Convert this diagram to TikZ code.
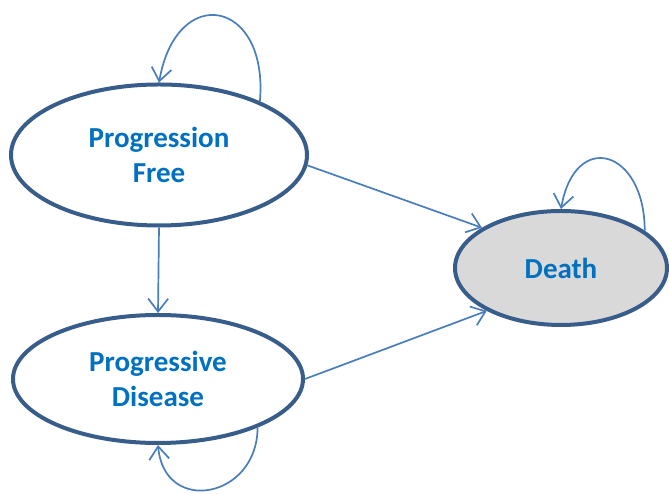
\documentclass[tikz,border=0pt]{standalone}
\usepackage{fontspec}
\setmainfont{Carlito}
\usetikzlibrary{shapes.geometric, arrows.meta}
\definecolor{rimblue}{HTML}{385D8A}
\definecolor{lineblue}{HTML}{4A7EBB}
\definecolor{textblue}{HTML}{0070C0}
\definecolor{deadgray}{HTML}{D9D9D9}

\begin{document}
\begin{tikzpicture}[
        ->,
        >={Straight Barb[length=13pt,width=20pt]},
        every node/.style={font=\fontsize{29}{35}\selectfont\bfseries, text=textblue, align=center},
        health/.style={ellipse, draw=rimblue, line width=4pt, inner sep=0pt},
        move/.style={draw=lineblue, line width=1.7pt},
        x=1pt,
        y=1pt
    ]
    \useasboundingbox (0,0) rectangle (669,494);

    \node[health, minimum width=296pt, minimum height=141pt] (pf) at (159,339) {Progression\\Free};
    \node[health, minimum width=290pt, minimum height=128pt] (pd) at (158,115) {Progressive\\Disease};
    \node[health, fill=deadgray, minimum width=212pt, minimum height=114pt] (dead) at (561,226) {Death};

    \path (pf.south) edge[move] (pd.north);
    \path (pf.-4) edge[move] (dead.153);
    \path (pd.0) edge[move] (dead.210);

    \path (pf.28) edge[move, out=85, in=80, looseness=2.55] (pf.north);
    \path (pd.-26) edge[move, out=-90, in=-85, looseness=1.8] (pd.south);
    \path (dead.24) edge[move, out=90, in=80, looseness=2.4] (dead.north);
\end{tikzpicture}
\end{document}
